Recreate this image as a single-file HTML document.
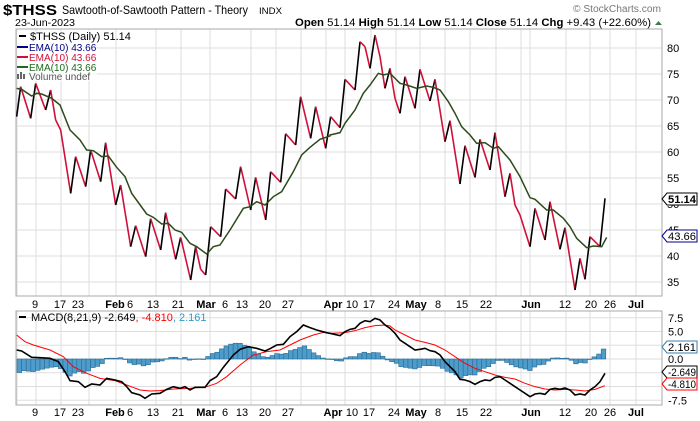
<!DOCTYPE html>
<html><head><meta charset="utf-8"><style>
body{margin:0;background:#fff;width:700px;height:421px;overflow:hidden;font-family:"Liberation Sans",sans-serif}
svg{position:absolute;left:0;top:0}
</style></head><body>
<svg id="s" width="700" height="421" xmlns="http://www.w3.org/2000/svg" font-family="Liberation Sans, sans-serif">
<text x="3" y="15" font-size="15" font-weight="bold" textLength="54" lengthAdjust="spacingAndGlyphs">$THSS</text>
<text x="62" y="14" font-size="12" textLength="186" lengthAdjust="spacingAndGlyphs">Sawtooth-of-Sawtooth Pattern - Theory</text>
<text x="259" y="14" font-size="9" textLength="23" lengthAdjust="spacingAndGlyphs">INDX</text>
<text x="15" y="26" font-size="10" textLength="60" lengthAdjust="spacingAndGlyphs">23-Jun-2023</text>
<text x="573" y="12" font-size="10" fill="#777" textLength="88" lengthAdjust="spacingAndGlyphs">© StockCharts.com</text>
<text x="295" y="26" font-size="11" textLength="356" lengthAdjust="spacingAndGlyphs"><tspan font-weight="bold">Open</tspan> 51.14 <tspan font-weight="bold">High</tspan> 51.14 <tspan font-weight="bold">Low</tspan> 51.14 <tspan font-weight="bold">Close</tspan> 51.14 <tspan font-weight="bold">Chg</tspan> +9.43 (+22.60%)</text>
<path d="M655,25 l3.5,-4 l3.5,4z" fill="#475"/>
<g id="g"></g>
</svg>
<script>
const NS="http://www.w3.org/2000/svg",g=document.getElementById('g');
function el(t,a,txt){const e=document.createElementNS(NS,t);for(const k in a)e.setAttribute(k,a[k]);if(txt!=null)e.textContent=txt;g.appendChild(e);return e;}
const L=16,R=662,T1=29,B1=296,T2=311,B2=405;
const vx=[17,36,61,89,116,156,181,210,251,276,301,326,345,371,396,420,445,470,496,521,530,566,590,610,636];
for(const x of vx){el('line',{x1:x,x2:x,y1:T1,y2:B1,stroke:'#ddd'});el('line',{x1:x,x2:x,y1:T2,y2:B2,stroke:'#ddd'});}
for(let v=35;v<=80;v+=5){const y=48+(80-v)*5.2;el('line',{x1:L,x2:R,y1:y,y2:y,stroke:'#ddd'});el('text',{x:667,y:y+4,'font-size':11},String(v));}
for(let v=-7.5;v<=7.5;v+=2.5){const y=359-v*5.5;el('line',{x1:L,x2:R,y1:y,y2:y,stroke:'#ddd'});}
[[7.5,'7.5'],[5,'5.0'],[0,'0.0'],[-7.5,'-7.5']].forEach(([v,t])=>el('text',{x:668,y:359-v*5.5+4,'font-size':11},t));
el('rect',{x:L,y:T1,width:R-L,height:B1-T1,fill:'none',stroke:'#aaa'});
el('rect',{x:L,y:T2,width:R-L,height:B2-T2,fill:'none',stroke:'#aaa'});
const dl=[[35,'9'],[60,'17'],[78,'23'],[115,'Feb',1],[130,'6'],[153,'13'],[178,'21'],[206,'Mar',1],[225,'6'],[242,'13'],[265,'20'],[288,'27'],[333,'Apr',1],[352,'10'],[369,'17'],[394,'24'],[416,'May',1],[438,'8'],[462,'15'],[486,'22'],[531,'Jun',1],[565,'12'],[591,'20'],[610,'26'],[636,'Jul',1]];
for(const [x,t,b] of dl){for(const y of [308,416])el('text',{x:x,y:y,'font-size':11,'text-anchor':'middle','font-weight':b?'bold':'normal'},t);}
const pz4=[[20,260],[32,170],[62,265],[77,160],[107,240],[122,180],[137,270],[152,300],[182,490],[197,380],[227,470],[242,360],[272,455],[287,338],[317,525],[332,465],[362,650],[377,587],[407,680],[422,566],[452,660],[467,548],[497,688],[512,622],[542,750],[557,650],[572,718],[587,735],[602,590],[632,620],[647,477],[677,507],[692,410],[722,540],[737,442],[767,570],[782,425],[812,457],[827,311],[857,345],[872,200],[902,325],[917,230],[947,355],[962,260]];
const pz5=[[30,383],[45,238],[75,270],[90,125],[105,140],[120,205],[135,105],[150,170],[165,265],[180,205],[195,295],[210,340],[225,230],[255,325],[270,208],[300,303],[315,238],[345,425],[360,362],[390,552],[405,437],[435,532],[450,418],[480,510],[495,398],[525,590],[540,520],[555,615],[570,645],[600,740],[615,625],[645,720],[660,605],[690,748],[705,683],[735,870],[750,775],[765,838],[780,710],[810,740],[825,595]];
const P=pz4.map(([a,b])=>[10+a/3,30+b/3]).concat(pz5.map(([a,b])=>[330+a/3,b/3]));
for(let i=1;i<P.length;i++){el('line',{x1:P[i-1][0],y1:P[i-1][1],x2:P[i][0],y2:P[i][1],stroke:P[i][1]<P[i-1][1]?'#000':'#d0103a','stroke-width':1.6});}
const ez4=[[20,175],[35,178],[65,198],[80,190],[95,192],[125,205],[150,225],[180,300],[210,330],[230,360],[250,362],[275,380],[295,378],[320,412],[345,440],[365,490],[410,552],[430,562],[455,582],[475,580],[495,600],[515,607],[540,640],[560,650],[590,672],[610,650],[630,645],[660,600],[700,535],[720,530],[740,515],[765,525],[790,500],[815,485],[850,425],[875,375],[900,352],[930,328],[960,318]];
const ez5=[[0,405],[30,398],[45,370],[75,330],[100,280],[120,255],[145,220],[160,225],[180,220],[210,250],[230,255],[260,265],[290,258],[310,262],[330,270],[355,305],[375,340],[395,380],[420,405],[440,430],[465,428],[490,445],[505,440],[540,480],[570,530],[600,593],[615,598],[650,630],[670,630],[700,655],[720,680],[740,715],[770,743],[790,738],[815,740],[830,712]];
const E=ez4.map(([a,b])=>[10+a/3,30+b/3]).concat(ez5.map(([a,b])=>[330+a/3,b/3]));
el('polyline',{points:E.map(p=>p.join(',')).join(' '),fill:'none',stroke:'#2d4a1a','stroke-width':1.5});
const m2=[[50,180],[65,183],[95,202],[120,203],[150,205],[175,215],[195,245],[210,272],[235,275],[255,292],[275,282],[300,285],[320,265],[345,270],[365,275],[380,290],[395,308],[420,315],[435,325],[455,312],[480,310],[500,298],[520,290],[540,295],[555,290],[570,300],[585,292],[615,292],[630,272],[650,260],[670,232],[700,195],[720,178],[745,170],[770,175],[795,183],[810,176],[830,165],[850,163],[870,140],[890,125],[910,105],[930,113],[950,120],[980,128]];
const m6=[[0,100],[30,107],[45,95],[60,88],[75,85],[90,70],[105,62],[120,65],[135,55],[150,60],[165,75],[180,85],[195,100],[210,120],[225,130],[240,140],[255,150],[270,148],[285,145],[300,152],[315,155],[330,165],[345,185],[360,200],[375,215],[390,238],[405,240],[420,245],[435,253],[450,245],[465,240],[480,242],[495,232],[510,230],[525,240],[540,250],[555,260],[570,270],[585,280],[600,290],[615,282],[630,280],[645,283],[660,268],[675,265],[690,268],[705,264],[720,270],[735,285],[750,282],[765,285],[780,270],[795,260],[810,245],[825,220]];
const s2=[[50,135],[75,155],[100,165],[150,180],[190,200],[220,230],[260,250],[300,265],[345,272],[380,285],[420,300],[450,303],[480,302],[520,297],[570,295],[620,290],[650,280],[680,260],[720,225],[760,195],[800,185],[840,180],[870,165],[900,150],[940,135],[970,127]];
const s6=[[0,100],[45,98],[75,92],[105,83],[135,77],[165,75],[180,78],[195,90],[225,105],[255,120],[285,127],[315,135],[345,150],[375,170],[405,190],[435,205],[465,215],[495,225],[525,232],[555,237],[585,250],[615,260],[645,267],[675,270],[705,268],[735,270],[765,273],[795,268],[825,257]];
const M=m2.map(([a,b])=>[a/3,290+b/3]).concat(m6.map(([a,b])=>[330+a/3,300+b/3]));
const S=s2.map(([a,b])=>[a/3,290+b/3]).concat(s6.map(([a,b])=>[330+a/3,300+b/3]));
function interp(A,x){if(x<=A[0][0])return A[0][1];for(let i=1;i<A.length;i++)if(x<=A[i][0]){const t=(x-A[i-1][0])/(A[i][0]-A[i-1][0]);return A[i-1][1]+t*(A[i][1]-A[i-1][1]);}return A[A.length-1][1];}
for(let x=17;x<=605;x+=4.6){const h=interp(S,x+2)-interp(M,x+2);const y0=359;const y=h>0?y0-h:y0;el('rect',{x:x,y:y,width:4.6,height:Math.max(Math.abs(h),0.5),fill:'#4d9ccb',stroke:'#2a6c94','stroke-width':0.6});}
el('polyline',{points:S.map(p=>p.join(',')).join(' '),fill:'none',stroke:'#f00','stroke-width':1});
el('polyline',{points:M.map(p=>p.join(',')).join(' '),fill:'none',stroke:'#000','stroke-width':1.6});
el('rect',{x:17,y:31,width:80,height:50,fill:'#fff',opacity:0.7});
el('line',{x1:19,x2:26,y1:36,y2:36,stroke:'#000','stroke-width':2});el('text',{x:30,y:40,'font-size':11},'$THSS (Daily) 51.14');
[['#00008b',47],['#d0103a',57],['#1a6a1a',67]].forEach(([c,y])=>{el('line',{x1:17,x2:28,y1:y,y2:y,stroke:c,'stroke-width':2});el('text',{x:29,y:y+4,'font-size':10,fill:c},'EMA(10) 43.66');});
el('rect',{x:17,y:74,width:2,height:5,fill:'#666'});el('rect',{x:20,y:72,width:2,height:7,fill:'#666'});el('rect',{x:23,y:74,width:2,height:5,fill:'#666'});
el('text',{x:29,y:80,'font-size':10,fill:'#555'},'Volume undef');
el('line',{x1:19,x2:26,y1:317,y2:317,stroke:'#000','stroke-width':2});
const tm=el('text',{x:31,y:321,'font-size':11});tm.innerHTML='MACD(8,21,9) -2.649<tspan fill="#f00">, -4.810</tspan><tspan fill="#3399cc">, 2.161</tspan>';
function tag(y,t,c,b){el('path',{d:`M662,${y} l5,-6 h30 v12 h-30z`,fill:'#fff',stroke:c});el('text',{x:668,y:y+4,'font-size':11,'font-weight':b?'bold':'normal',fill:'#000',textLength:28,lengthAdjust:'spacingAndGlyphs'},t);}
tag(199,'51.14','#000',1);tag(236,'43.66','#00008b');
tag(347,'2.161','#3a7fb0');tag(372,'-2.649','#000');tag(384,'-4.810','#f00');
</script>
</body></html>
